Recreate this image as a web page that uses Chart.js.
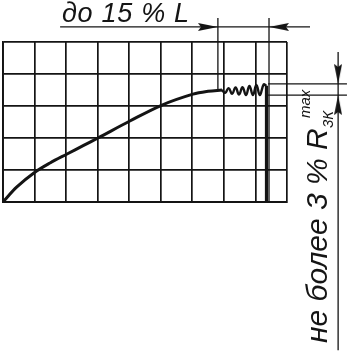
<!DOCTYPE html>
<html>
<head>
<meta charset="utf-8">
<script src="https://cdn.jsdelivr.net/npm/chart.js@4"></script>
<style>
    html, body { margin: 0; padding: 0; background: #fff; }
    #wrap { position: relative; width: 351px; height: 354px; overflow: hidden; }
    #wrap canvas { position: absolute; left: 0; top: 0; }
    .lbl {
        position: absolute;
        font-family: "Liberation Sans", Arial, sans-serif;
        font-style: italic;
        color: #151515;
        line-height: 1;
        white-space: nowrap;
    }
    .rot { transform-origin: 0 0; transform: rotate(-90deg); }
</style>
</head>
<body>
<div id="wrap">
    <canvas id="DiagramChart" width="351" height="354" style="width:351px;height:354px"></canvas>
    <span class="lbl" style="left:62px;top:0px;font-size:27px;letter-spacing:0.7px">до 15 % L</span>
    <span class="lbl rot" style="left:301.6px;top:343px;font-size:30px">не более 3 % R</span>
    <span class="lbl rot" style="left:297px;top:118px;font-size:15px">max</span>
    <span class="lbl rot" style="left:320px;top:128px;font-size:15px">3К</span>
</div>
<script>
(function () {
    "use strict";

    // Grid: 9 x 5 cells
    const gridCols = 9;
    const gridRows = 5;

    // Loading curve (grid units)
    const curveX = [0, 0.44, 1.01, 1.49, 2.03, 2.54, 3.01, 4.02, 5.04, 6.02, 6.5, 6.94];
    const curveY = [0, 0.47, 0.93, 1.22, 1.5, 1.76, 2.0, 2.53, 3.03, 3.37, 3.46, 3.5];

    // Oscillation at the end of the curve
    const waveX = [6.94, 7.04, 7.15, 7.26, 7.37, 7.48, 7.59, 7.70, 7.81, 7.92, 8.03, 8.14, 8.26, 8.35];
    const waveY = [3.5, 3.41, 3.56, 3.38, 3.58, 3.36, 3.59, 3.34, 3.63, 3.34, 3.66, 3.34, 3.67, 3.63];

    // Drop of the curve to zero
    const dropX = [8.35, 8.35];
    const dropY = [3.63, 0];

    // Dimension and extension lines
    const dimLinesX = [[6.81, 6.81], [8.43, 8.43], [1.81, 9.73], [8.40, 10.90], [8.40, 10.90], [10.62, 10.62]];
    const dimLinesY = [[5.75, 3.5], [5.75, 0], [5.47, 5.47], [3.69, 3.69], [3.34, 3.34], [4.69, -4.63]];

    // Arrow heads (tip position, direction in degrees)
    const arrowX = [6.81, 8.43, 10.62, 10.62];
    const arrowY = [5.47, 5.47, 3.69, 3.34];
    const arrowDir = [0, 180, 90, -90];

    const ink = "#141414";

    const toPts = function (xs, ys) {
        return xs.map(function (x, i) {
            return { x: x, y: ys[i] };
        });
    };

    // arrow head image, tip at the centre of the canvas
    function makeArrow(len, half) {
        const c = document.createElement("canvas");
        c.width = len * 2;
        c.height = half * 2;
        const g = c.getContext("2d");
        g.fillStyle = ink;
        g.beginPath();
        g.moveTo(len, half);
        g.lineTo(0, 0);
        g.lineTo(3, half);
        g.lineTo(0, half * 2);
        g.closePath();
        g.fill();
        return c;
    }
    const arrowImg = makeArrow(20, 4);

    // arrows sit outside the chart area, so draw them after the datasets
    const arrowPlugin = {
        id: "arrows",
        afterDatasetsDraw: function (chart) {
            const c = chart.ctx;
            const sx = chart.scales.x;
            const sy = chart.scales.y;
            arrowX.forEach(function (x, i) {
                c.save();
                c.translate(sx.getPixelForValue(x), sy.getPixelForValue(arrowY[i]));
                c.rotate((arrowDir[i] * Math.PI) / 180);
                c.drawImage(arrowImg, -arrowImg.width / 2, -arrowImg.height / 2);
                c.restore();
            });
        },
    };

    const lineSet = function (pts, width, tension) {
        return {
            data: pts,
            borderColor: ink,
            borderWidth: width,
            pointRadius: 0,
            tension: tension,
            fill: false,
            clip: false,
        };
    };

    const datasets = [];
    datasets.push(lineSet(toPts(curveX, curveY), 3, 0.35));
    datasets.push(lineSet(toPts(waveX, waveY), 2.4, 0.45));
    datasets.push(lineSet(toPts(dropX, dropY), 3.2, 0));
    dimLinesX.forEach(function (xs, i) {
        datasets.push(lineSet(toPts(xs, dimLinesY[i]), 1.3, 0));
    });

    const ctx = document.getElementById("DiagramChart").getContext("2d");
    new Chart(ctx, {
        type: "line",
        data: { datasets: datasets },
        plugins: [arrowPlugin],
        options: {
            responsive: false,
            animation: false,
            events: [],
            layout: {
                padding: { left: 3, top: 42, right: 64, bottom: 152 },
            },
            scales: {
                x: {
                    type: "linear",
                    min: 0,
                    max: gridCols,
                    ticks: { display: false, stepSize: 1 },
                    grid: { color: ink, lineWidth: 1.7, drawTicks: false },
                    border: { display: true, color: ink, width: 1.9 },
                    afterFit: function (scale) {
                        scale.height = 0;
                    },
                },
                y: {
                    type: "linear",
                    min: 0,
                    max: gridRows,
                    ticks: { display: false, stepSize: 1 },
                    grid: { color: ink, lineWidth: 1.7, drawTicks: false },
                    border: { display: true, color: ink, width: 1.9 },
                    afterFit: function (scale) {
                        scale.width = 0;
                    },
                },
            },
            plugins: {
                legend: { display: false },
                tooltip: { enabled: false },
            },
        },
    });
})();
</script>
</body>
</html>
